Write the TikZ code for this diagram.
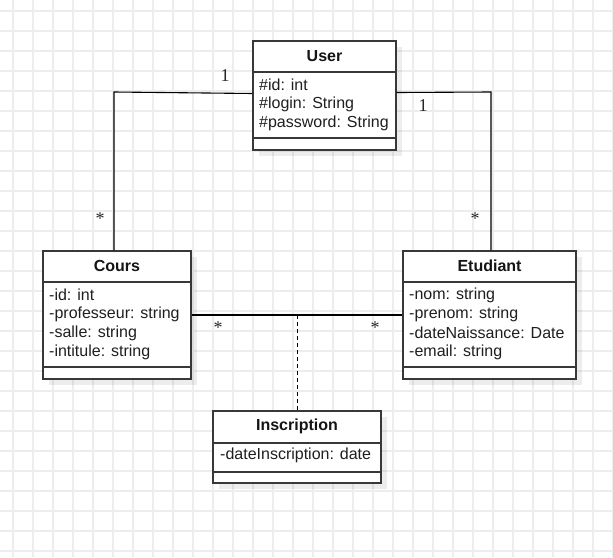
\documentclass[tikz,border=0pt]{standalone}
\usepackage{fontspec}
\setmainfont{Liberation Sans}
\newfontfamily\lblfont{Liberation Serif}
\usetikzlibrary{shadows}
\begin{document}
\begin{tikzpicture}[x=1pt,y=-1pt,
  gridline/.style={draw=black!7, line width=1.2pt},
  umlbox/.style={draw=black!78, line width=1.3pt, fill=white, inner sep=0pt,
    drop shadow={shadow xshift=6pt, shadow yshift=-6pt, fill=black, opacity=0.07}},
  sepline/.style={draw=black!78, line width=1.3pt},
  title/.style={font=\fontsize{16}{19}\selectfont\bfseries, text=black!92, inner sep=0pt},
  attr/.style={font=\fontsize{16}{19}\selectfont, text=black!88, anchor=west, inner sep=0pt},
  conn/.style={draw=black, line width=1.1pt},
  mult/.style={font=\lblfont\fontsize{18}{20}\selectfont, text=black!85, inner sep=0pt}]
\useasboundingbox (0,0) rectangle (613,557);
\fill[white] (0,0) rectangle (613,557);
\foreach \gx in {13,33,...,613} \draw[gridline] (\gx,0) -- (\gx,557);
\foreach \gy in {11,31,...,557} \draw[gridline] (0,\gy) -- (613,\gy);

% boxes
\node[umlbox, minimum width=143pt, minimum height=109pt] (User) at (324.5,95.5) {};
\node[umlbox, minimum width=148pt, minimum height=128pt] (Cours) at (117,315) {};
\node[umlbox, minimum width=173pt, minimum height=128pt] (Etudiant) at (489.5,315) {};
\node[umlbox, minimum width=168pt, minimum height=72pt] (Inscription) at (297,447) {};

% separators
\draw[sepline] (User.west |- 0,72) -- (User.east |- 0,72);
\draw[sepline] (User.west |- 0,138) -- (User.east |- 0,138);
\draw[sepline] (Cours.west |- 0,282) -- (Cours.east |- 0,282);
\draw[sepline] (Cours.west |- 0,367) -- (Cours.east |- 0,367);
\draw[sepline] (Etudiant.west |- 0,282) -- (Etudiant.east |- 0,282);
\draw[sepline] (Etudiant.west |- 0,367) -- (Etudiant.east |- 0,367);
\draw[sepline] (Inscription.west |- 0,443) -- (Inscription.east |- 0,443);
\draw[sepline] (Inscription.west |- 0,472) -- (Inscription.east |- 0,472);

% titles
\node[title] (tUser) at (324.5,56) {User};
\node[title] (tCours) at (117,266) {Cours};
\node[title] (tEtudiant) at (489.5,266) {Etudiant};
\node[title] (tInscription) at (297,426) {Inscription};

% attributes
\node[attr] (u1) at (259,85) {\#id: int};
\node[attr] (u2) at (259,104) {\#login: String};
\node[attr] (u3) at (259,123) {\#password: String};
\node[attr] (c1) at (49,295) {-id: int};
\node[attr] (c2) at (49,314) {-professeur: string};
\node[attr] (c3) at (49,333) {-salle: string};
\node[attr] (c4) at (49,352) {-intitule: string};
\node[attr] (e1) at (409,295) {-nom: string};
\node[attr] (e2) at (409,314) {-prenom: string};
\node[attr] (e3) at (409,333) {-dateNaissance: Date};
\node[attr] (e4) at (409,352) {-email: string};
\node[attr] (i1) at (220,455) {-dateInscription: date};

% connectors
\coordinate (cl) at (114,92);
\coordinate (cr) at (491,92);
\draw[conn] ([yshift=2pt]User.west) -- (cl) -- (cl |- Cours.north);
\draw[conn] ([yshift=3pt]User.east) -- (cr) -- (cr |- Etudiant.north);
\draw[conn] (Cours.east) -- (Etudiant.west);
\path (Cours.east) -- (Etudiant.west) coordinate[midway] (mid);
\draw[conn, line width=1pt, dash pattern=on 4pt off 3pt] (mid) -- (Inscription.north);

% multiplicities
\node[mult] (m1) at (225,76) {1};
\node[mult] (m2) at (423,106) {1};
\node[mult] (m3) at (100,219) {*};
\node[mult] (m4) at (475,219) {*};
\node[mult] (m5) at (218,328) {*};
\node[mult] (m6) at (375,328) {*};
\end{tikzpicture}
\end{document}
